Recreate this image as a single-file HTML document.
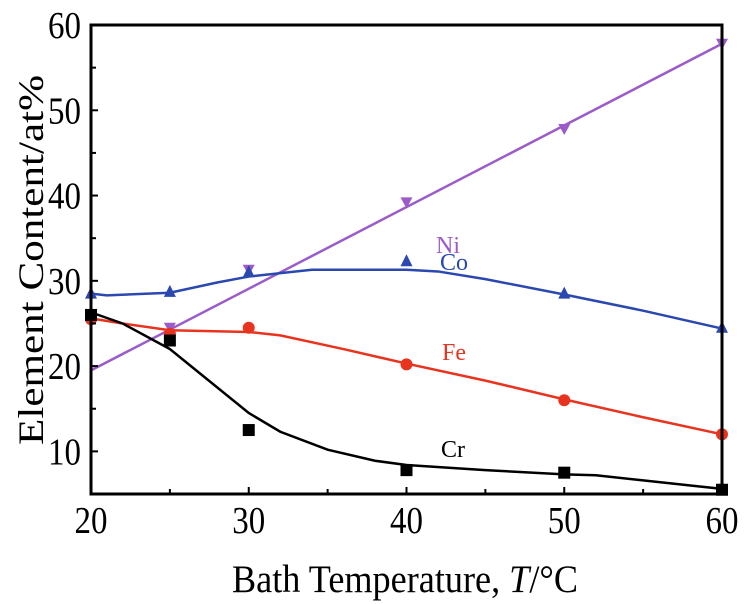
<!DOCTYPE html>
<html><head><meta charset="utf-8"><style>
html,body{margin:0;padding:0;background:#fff;}
svg{display:block;font-family:"Liberation Serif",serif;}
</style></head><body>
<svg id="s" width="745" height="604" viewBox="0 0 745 604" xmlns="http://www.w3.org/2000/svg">
<g id="lab" font-size="33" fill="#000"></g>
<text transform="translate(232,592) scale(1,1.15)" font-size="34" textLength="346" lengthAdjust="spacingAndGlyphs">Bath Temperature, <tspan font-style="italic">T</tspan>/°C</text>
<text transform="translate(43,260) rotate(-90)" text-anchor="middle" font-size="36" textLength="370" lengthAdjust="spacingAndGlyphs">Element Content/at%</text>
<g font-size="24">
<text x="436" y="253" fill="#9b5bc8">Ni</text>
<text x="440" y="270" fill="#2a48b0">Co</text>
<text x="442" y="360" fill="#e8341f">Fe</text>
<text x="441" y="457" fill="#000">Cr</text>
</g>
<g id="plot"></g>
<rect x="91" y="25" width="631" height="469" fill="none" stroke="#000" stroke-width="3"/>
<g id="ticks" stroke="#000" stroke-width="2"></g>
</svg>
<script>
const X=t=>91+(t-20)*15.775, Y=v=>494-(v-5)*8.527;
const ns="http://www.w3.org/2000/svg";
const plot=document.getElementById('plot'), ticks=document.getElementById('ticks'), lab=document.getElementById('lab');
function el(p,tag,a,txt){const e=document.createElementNS(ns,tag);for(const k in a)e.setAttribute(k,a[k]);if(txt)e.textContent=txt;p.appendChild(e);return e;}
for(let v=10;v<=60;v+=10)el(lab,'text',{transform:`translate(81,${Y(v)+13}) scale(1,1.15)`,'text-anchor':'end'},String(v));
for(let t=20;t<=60;t+=10)el(lab,'text',{transform:`translate(${X(t)},533) scale(1,1.15)`,'text-anchor':'middle'},String(t));
for(let v=10;v<60;v+=5){const y=Y(v);el(ticks,'line',{x1:91,x2:91+(v%10==0?7:5),y1:y,y2:y});}
for(let t=25;t<60;t+=5){const x=X(t);el(ticks,'line',{x1:x,x2:x,y1:494,y2:494-(t%10==0?7:5)});}
const S=[
 {c:'#9b5bc8',m:'dtri',line:[[20,19.5],[60,57.8]],pts:[[25,24.5],[30,31.3],[40,39.2],[50,47.8],[60,57.8]]},
 {c:'#2a48b0',m:'utri',line:[[20,28.5],[21,28.3],[25,28.6],[28,29.8],[30,30.5],[34,31.3],[40,31.3],[42,31.1],[45,30.2],[50,28.4],[55,26.5],[60,24.4]],pts:[[20,28.5],[25,28.7],[30,31],[40,32.3],[50,28.5],[60,24.5]]},
 {c:'#e8341f',m:'circ',line:[[20,25.6],[22,25],[25,24.2],[30,24],[32,23.6],[36,22],[40,20.3],[45,18.3],[50,16.1],[55,14],[60,12]],pts:[[20,25.5],[25,23.8],[30,24.5],[40,20.2],[50,16],[60,12]]},
 {c:'#000',m:'sq',line:[[20,26.3],[22,25],[24,23],[25,22],[27,19],[30,14.5],[32,12.3],[35,10.2],[38,8.9],[40,8.4],[45,7.8],[50,7.3],[52,7.2],[55,6.6],[58,6],[60,5.6]],pts:[[20,26],[25,23],[30,12.5],[40,7.8],[50,7.5],[60,5.5]]}
];
for(const s of S){
 el(plot,'polyline',{points:s.line.map(p=>X(p[0])+','+Y(p[1])).join(' '),fill:'none',stroke:s.c,'stroke-width':2.5});
 for(const p of s.pts){const x=X(p[0]),y=Y(p[1]);
  if(s.m=='sq')el(plot,'rect',{x:x-6,y:y-6,width:12,height:12,fill:s.c});
  else if(s.m=='circ')el(plot,'circle',{cx:x,cy:y,r:6,fill:s.c});
  else if(s.m=='utri')el(plot,'polygon',{points:`${x},${y-7} ${x-6},${y+5} ${x+6},${y+5}`,fill:s.c});
  else el(plot,'polygon',{points:`${x},${y+6} ${x-6},${y-5} ${x+6},${y-5}`,fill:s.c});
 }
}
</script>
</body></html>
